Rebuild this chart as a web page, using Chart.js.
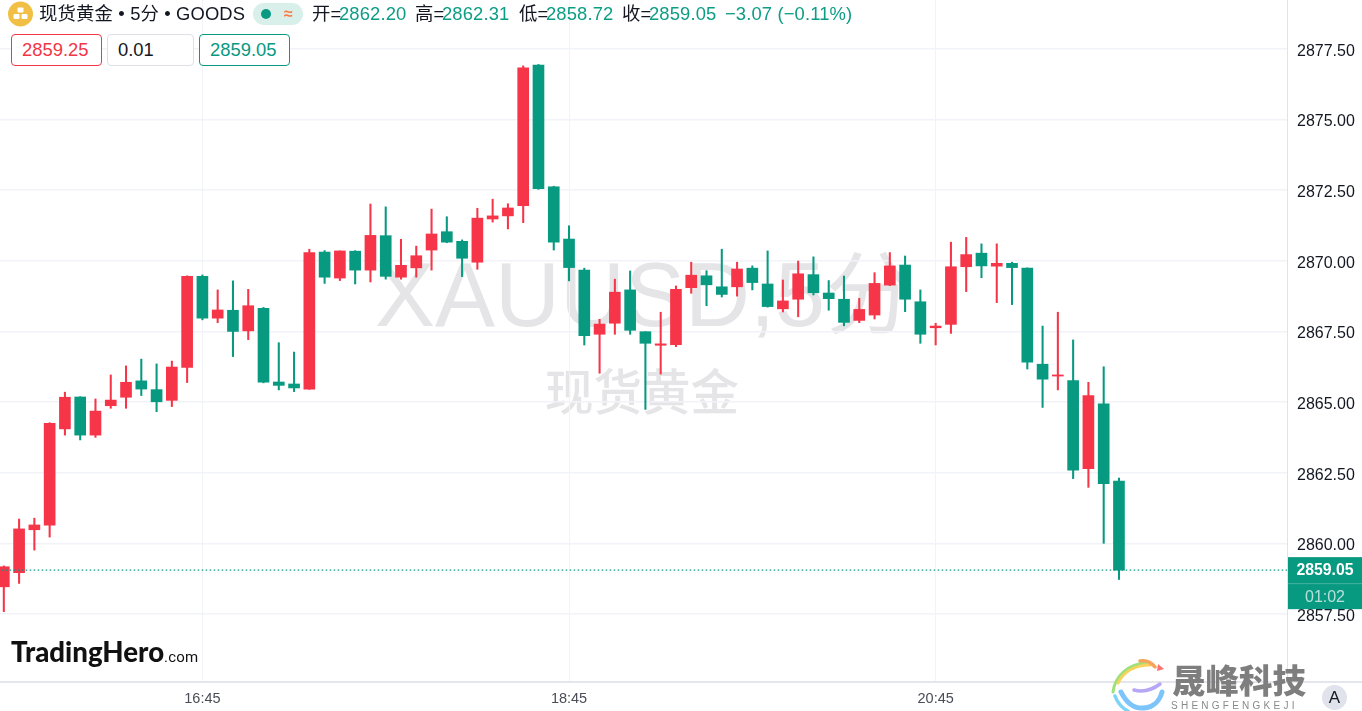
<!DOCTYPE html>
<html>
<head>
<meta charset="utf-8">
<title>现货黄金 5分</title>
<script src="https://cdn.jsdelivr.net/npm/chart.js@4"></script>
<style>
  html, body { margin: 0; padding: 0; background: #fff; }
  body { width: 1362px; height: 711px; overflow: hidden; position: relative;
         font-family: "Liberation Sans", "Noto Sans CJK SC", sans-serif; color: #131722; }
  #wrap { position: absolute; left: 0; top: 0; width: 1362px; height: 711px; z-index: 1; }
  .t { position: absolute; white-space: nowrap; font-size: 18.4px; line-height: 22px; letter-spacing: .13px; }
  .g { color: #0d9d85; }
  .mark { position: absolute; white-space: nowrap; color: #e5e5e8; z-index: 0; line-height: 1; }
  .box { position: absolute; top: 34px; height: 30px; border: 1px solid; border-radius: 4px;
         font-size: 18.4px; line-height: 30px; padding-left: 10px; box-sizing: content-box; }
  .over { z-index: 2; }
</style>
</head>
<body>
<div class="mark" style="left:375px;top:250px;font-size:90px">XAUUSD,5分</div>
<div class="mark" style="left:545px;top:369px;font-size:48.5px;font-weight:500">现货黄金</div>
<div id="wrap"><canvas id="chart"></canvas></div>

<div class="over" style="position:absolute;left:0;top:681px;width:1362px;height:1.5px;background:#e4e6ee"></div>

<svg class="over" style="position:absolute;left:8px;top:1px" width="26" height="26" viewBox="0 0 26 26">
  <circle cx="12.5" cy="13" r="12.5" fill="#f0bf44"/>
  <rect x="9.5" y="6.5" width="6" height="5" rx="1" fill="#fff"/>
  <rect x="5.5" y="13" width="6" height="5" rx="1" fill="#fff"/>
  <rect x="13.5" y="13" width="6" height="5" rx="1" fill="#fff"/>
</svg>
<div class="t over" style="left:39px;top:3px">现货黄金 • 5分 • GOODS</div>
<div class="over" style="position:absolute;left:253px;top:3px;width:50px;height:22px;border-radius:11px;background:#d9f0ea"></div>
<div class="over" style="position:absolute;left:261px;top:9px;width:10px;height:10px;border-radius:5px;background:#089981"></div>
<div class="t over" style="left:284px;top:3px;color:#ff7a45;font-weight:bold;font-size:16px">≈</div>

<div class="t over" style="left:312px;top:3px">开=</div><div class="t g over" style="left:339px;top:3px">2862.20</div>
<div class="t over" style="left:415px;top:3px">高=</div><div class="t g over" style="left:442px;top:3px">2862.31</div>
<div class="t over" style="left:519px;top:3px">低=</div><div class="t g over" style="left:546px;top:3px">2858.72</div>
<div class="t over" style="left:622px;top:3px">收=</div><div class="t g over" style="left:649px;top:3px">2859.05</div>
<div class="t g over" style="left:725px;top:3px">−3.07 (−0.11%)</div>

<div class="box over" style="left:11px;width:79px;border-color:#f23645;color:#f23645;background:#fff">2859.25</div>
<div class="box over" style="left:107px;width:75px;border-color:#dcdfe8;background:#fff;border-width:1.5px">0.01</div>
<div class="box over" style="left:199px;width:79px;border-color:#089981;color:#089981;background:#fff">2859.05</div>

<div class="over" style="position:absolute;left:11px;top:634px;font:900 27.6px/36px Lato,sans-serif;color:#111;white-space:nowrap">TradingHero<span style="font:400 15px Roboto,sans-serif;letter-spacing:.2px">.com</span></div>

<svg class="over" style="position:absolute;left:1110px;top:658px" width="60" height="53" viewBox="0 0 60 53" fill="none" stroke-linecap="round">
  <path d="M3 34 C5 18 18 6 36 5" stroke="#9fe07a" stroke-width="3"/>
  <path d="M8 25 C14 13 26 7 40 7" stroke="#f6d35b" stroke-width="3"/>
  <path d="M30 3 C36 2 41 4 45 9" stroke="#f7a35c" stroke-width="3.5"/>
  <path d="M48 6 L54 11 L47 13 Z" fill="#ff7070" stroke="none"/>
  <path d="M5 38 C8 46 12 50 18 53" stroke="#7fd3f7" stroke-width="3.5"/>
  <path d="M11 34 C16 44 24 51 34 50 C44 49 50 42 52 34" stroke="#7dc4fb" stroke-width="5"/>
  <path d="M24 32 C32 34 42 32 50 26" stroke="#b7a6f5" stroke-width="3.5"/>
</svg>
<div class="over" style="position:absolute;left:1172px;top:658px;font:900 33.5px/42px 'Noto Sans CJK SC',sans-serif;color:#7e7e7e;white-space:nowrap">晟峰科技</div>
<div class="over" style="position:absolute;left:1171px;top:700px;font:400 10px/12px 'Liberation Sans',sans-serif;letter-spacing:3.25px;color:#8a8a8a;white-space:nowrap">SHENGFENGKEJI</div>
<div class="over" style="position:absolute;left:1322px;top:685px;width:25px;height:25px;border-radius:13px;background:#e0e3eb;text-align:center;font:400 17px/25px 'Liberation Sans',sans-serif;color:#131722">A</div>

<script>
const times = ['15:40','15:45','15:50','15:55','16:00','16:05','16:10','16:15','16:20','16:25','16:30','16:35','16:40',
  '16:45','16:50','16:55','17:00','17:05','17:10','17:15','17:20','17:25','17:30','17:35','17:40','17:45','17:50','17:55',
  '18:00','18:05','18:10','18:15','18:20','18:25','18:30','18:35','18:40','18:45','18:50','18:55','19:00','19:05','19:10',
  '19:15','19:20','19:25','19:30','19:35','19:40','19:45','19:50','19:55','20:00','20:05','20:10','20:15','20:20','20:25',
  '20:30','20:35','20:40','20:45','20:50','20:55','21:00','21:05','21:10','21:15','21:20','21:25','21:30','21:35','21:40','21:45'];
const opens = [2858.46,2858.96,2860.48,2860.64,2864.05,2865.18,2863.83,2864.87,2865.17,2865.75,2865.44,2865.06,2866.23,
  2869.45,2867.97,2868.25,2867.52,2868.32,2865.71,2865.64,2865.46,2870.31,2869.39,2870.34,2869.67,2870.89,2869.42,2869.75,
  2870.38,2871.03,2870.69,2869.95,2871.48,2871.59,2871.95,2876.93,2872.62,2870.77,2869.67,2867.40,2867.79,2868.97,2867.49,
  2867.01,2867.03,2869.05,2869.47,2869.08,2869.08,2869.74,2869.18,2868.30,2868.64,2869.51,2868.86,2868.64,2867.89,2868.08,
  2869.14,2869.85,2868.55,2867.63,2867.75,2869.79,2870.27,2869.81,2869.91,2869.74,2866.34,2865.92,2865.76,2862.64,2864.94,2862.20];
const highs = [2859.20,2860.86,2860.89,2864.27,2865.35,2865.19,2865.11,2865.96,2866.28,2866.52,2866.35,2866.45,2869.47,
  2869.50,2868.97,2869.29,2868.99,2868.35,2867.10,2866.77,2870.41,2870.36,2870.35,2870.36,2872.01,2871.91,2870.76,2870.52,
  2871.83,2871.56,2870.74,2871.86,2872.18,2872.02,2876.90,2876.95,2872.64,2871.24,2869.74,2867.93,2869.35,2869.64,2867.49,
  2868.18,2869.11,2869.95,2869.65,2870.41,2869.95,2869.82,2870.35,2869.32,2869.99,2870.14,2869.30,2869.46,2868.67,2869.58,
  2870.29,2870.17,2868.97,2867.79,2870.66,2870.83,2870.60,2870.60,2869.95,2869.75,2867.69,2868.18,2867.20,2865.70,2866.25,2862.31];
const lows = [2857.58,2858.58,2859.76,2860.22,2863.83,2863.66,2863.75,2864.78,2864.78,2865.23,2864.66,2864.84,2865.69,
  2867.91,2867.81,2866.61,2867.21,2865.68,2865.43,2865.37,2865.45,2869.20,2869.30,2869.18,2869.25,2869.35,2869.35,2869.42,
  2869.67,2870.64,2869.44,2869.70,2871.37,2871.13,2871.35,2872.53,2870.38,2869.29,2867.02,2866.02,2867.40,2867.40,2864.74,
  2865.99,2866.96,2868.85,2868.41,2868.72,2868.75,2868.97,2868.36,2868.19,2868.02,2868.79,2868.25,2867.70,2867.81,2867.94,
  2869.12,2868.20,2867.08,2867.02,2867.43,2868.91,2869.40,2868.52,2868.45,2866.17,2864.81,2865.43,2862.29,2861.98,2860.00,2858.72];
const closes = [2859.17,2860.51,2860.65,2864.25,2865.17,2863.83,2864.68,2865.07,2865.70,2865.46,2865.01,2866.24,2869.45,
  2867.97,2868.26,2867.50,2868.41,2865.70,2865.59,2865.50,2870.29,2869.42,2870.35,2869.67,2870.90,2869.45,2869.84,2870.18,
  2870.95,2870.66,2870.09,2871.51,2871.59,2871.87,2876.83,2872.55,2870.66,2869.76,2867.35,2867.76,2868.89,2867.54,2867.08,
  2867.06,2868.99,2869.49,2869.15,2868.81,2869.71,2869.23,2868.38,2868.58,2869.54,2868.87,2868.66,2867.82,2868.28,2869.20,
  2869.82,2868.64,2867.40,2867.69,2869.79,2870.22,2869.82,2869.91,2869.76,2866.41,2865.81,2865.96,2862.59,2865.23,2862.11,2859.05];
const tickTimes = ['16:45', '18:45', '20:45'];
const priceStep = 2.5;
const lastTimer = '01:02';

const UP = '#f63549', DOWN = '#089981', GRID = '#f1f3f8', AXIS = '#e0e3eb';
const toMin = (s) => { const [h, m] = s.split(':').map(Number); return h * 60 + m; };
const fmtMin = (v) => String(Math.floor(v / 60)).padStart(2, '0') + ':' + String(v % 60).padStart(2, '0');
const colors = opens.map((o, i) => (closes[i] >= o ? UP : DOWN));
const lastClose = closes[closes.length - 1];

// right-hand price tag, follows the y scale
const priceTag = {
  id: 'priceTag',
  afterDraw(chart) {
    const { ctx, scales: { y }, width } = chart;
    const py = y.getPixelForValue(lastClose);
    const left = y.left + 1;
    ctx.save();
    ctx.fillStyle = DOWN;
    ctx.fillRect(left, py - 13, width - left, 52);
    ctx.fillStyle = 'rgba(255,255,255,.25)';
    ctx.fillRect(left, py + 13, width - left, 1);
    ctx.textAlign = 'center';
    ctx.textBaseline = 'middle';
    const cx = (left + width) / 2;
    ctx.fillStyle = '#fff';
    ctx.font = 'bold 15.8px "Liberation Sans"';
    ctx.fillText(lastClose.toFixed(2), cx, py + 1);
    ctx.fillStyle = 'rgba(255,255,255,.7)';
    ctx.font = '16px "Liberation Sans"';
    ctx.fillText(lastTimer, cx, py + 27);
    ctx.restore();
  },
};

const el = document.getElementById('chart');
new Chart(el, {
  type: 'bar',
  data: {
    datasets: [
      {
        type: 'line',
        data: [{ x: 938, y: lastClose }, { x: 1361, y: lastClose }],
        borderColor: DOWN,
        borderWidth: 1.3,
        borderDash: [1.5, 2.5],
        pointRadius: 0,
        order: 0,
      },
      {
        data: times.map((t, i) => ({ x: toMin(t), y: [opens[i], closes[i]] })),
        backgroundColor: colors,
        barThickness: 11,
        grouped: false,
        order: 1,
      },
      {
        data: times.map((t, i) => ({ x: toMin(t), y: [lows[i], highs[i]] })),
        backgroundColor: colors,
        barThickness: 1.4,
        grouped: false,
        order: 2,
      },
    ],
  },
  options: {
    responsive: true,
    maintainAspectRatio: false,
    animation: false,
    layout: { padding: 0 },
    plugins: { legend: { display: false }, tooltip: { enabled: false } },
    scales: {
      x: {
        type: 'linear',
        offset: false,
        min: 938.75,
        max: 1360.0,
        grid: { color: GRID, drawTicks: false, offset: false },
        border: { display: false },
        afterBuildTicks: (s) => { s.ticks = tickTimes.map((t) => ({ value: toMin(t) })); },
        afterFit: (s) => { s.height = 30; s.paddingLeft = 0; s.paddingRight = 0; },
        ticks: {
          autoSkip: false,
          maxRotation: 0,
          padding: 9,
          color: '#4a4d57',
          font: { family: 'Liberation Sans', size: 14.5 },
          callback: (v) => fmtMin(v),
        },
      },
      y: {
        position: 'right',
        min: 2855.126,
        max: 2879.232,
        grid: { color: GRID, lineWidth: 1.5, drawTicks: false },
        border: { color: AXIS, width: 1 },
        afterFit: (s) => { s.width = 75; s.paddingTop = 0; s.paddingBottom = 0; },
        ticks: {
          stepSize: priceStep,
          includeBounds: false,
          autoSkip: false,
          padding: 10,
          labelOffset: 2.5,
          color: '#131722',
          font: { family: 'Liberation Sans', size: 16 },
          callback: (v) => v.toFixed(2),
        },
      },
    },
  },
  plugins: [priceTag],
});
</script>
</body>
</html>
